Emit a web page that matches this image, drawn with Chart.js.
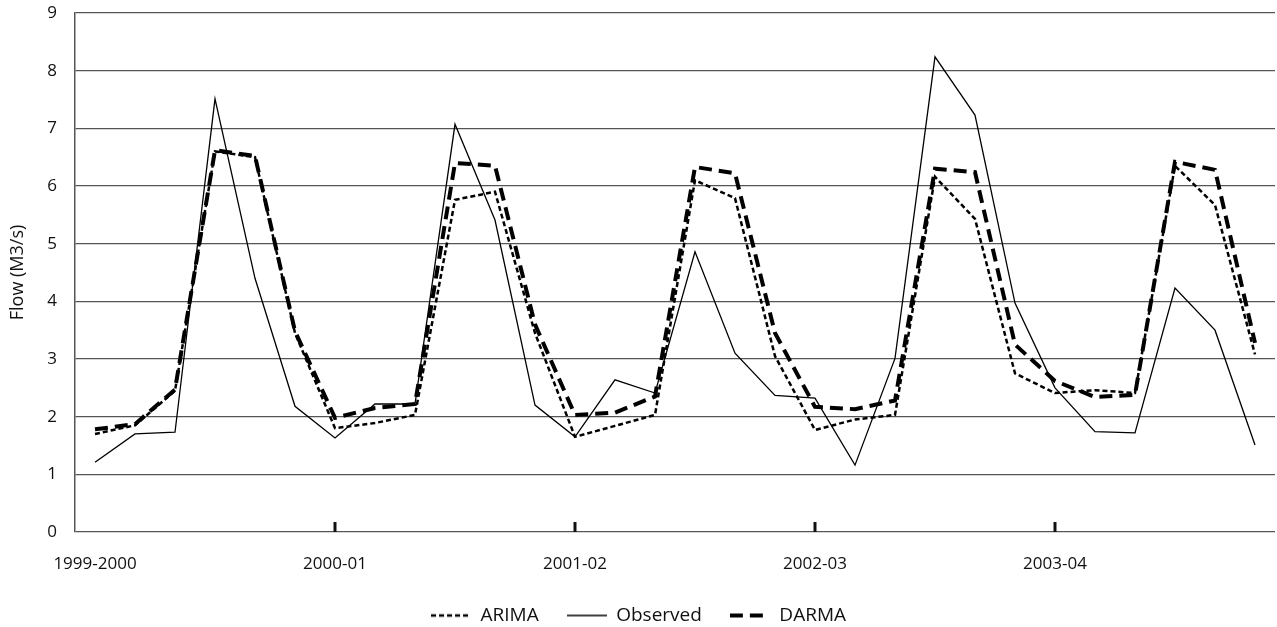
<!DOCTYPE html>
<html>
<head>
<meta charset="utf-8">
<script src="https://cdn.jsdelivr.net/npm/chart.js@4.4.0/dist/chart.umd.min.js"></script>
<style>
  html, body { margin: 0; padding: 0; background: #fff; }
  #wrap { width: 1277px; height: 627px; position: relative; }
</style>
</head>
<body>
<div id="wrap"><canvas id="flowChart"></canvas></div>
<script>
// season labels, one every 6 bimonthly steps
var yearLabels = ['1999-2000', '2000-01', '2001-02', '2002-03', '2003-04'];
var stepsPerYear = 6;

// flow values (M3/s)
var observed = [1.21, 1.70, 1.73, 7.51, 4.40, 2.18, 1.63, 2.22, 2.22, 7.07, 5.41, 2.20, 1.65, 2.64, 2.41,
                4.86, 3.10, 2.37, 2.32, 1.16, 3.01, 8.24, 7.23, 3.97, 2.50, 1.74, 1.72, 4.23, 3.50, 1.51];
var arima    = [1.70, 1.85, 2.45, 6.60, 6.50, 3.45, 1.80, 1.89, 2.03, 5.76, 5.90, 3.45, 1.65, 1.84, 2.03,
                6.10, 5.79, 3.05, 1.77, 1.95, 2.03, 6.16, 5.43, 2.75, 2.41, 2.46, 2.41, 6.35, 5.67, 3.08];
var darma    = [1.78, 1.87, 2.47, 6.62, 6.52, 3.48, 1.98, 2.15, 2.22, 6.40, 6.35, 3.60, 2.03, 2.07, 2.35,
                6.33, 6.22, 3.45, 2.17, 2.13, 2.28, 6.30, 6.24, 3.25, 2.62, 2.34, 2.38, 6.42, 6.28, 3.28];

var yMin = 0, yMax = 9, yStep = 1;

var categories = observed.map(function (v, i) {
  return i % stepsPerYear === 0 ? yearLabels[i / stepsPerYear] : '';
});

// line styles per series
var styles = [
  { width: 2.5, dash: [5, 3] },
  { width: 1.3, dash: [] },
  { width: 4, dash: [13, 7] }
];

// legend sample: a short dashed line drawn into a small canvas
function lineSample(st) {
  var c = document.createElement('canvas');
  c.width = 40; c.height = 8;
  var g = c.getContext('2d');
  g.strokeStyle = '#000';
  g.lineWidth = st.width;
  g.setLineDash(st.dash);
  g.beginPath();
  g.moveTo(0, 4);
  g.lineTo(40, 4);
  g.stroke();
  return c;
}

// small tick marks on the x axis at each season start
var seasonTicks = {
  id: 'seasonTicks',
  afterDatasetsDraw: function (chart) {
    var xs = chart.scales.x, ys = chart.scales.y, ctx = chart.ctx;
    ctx.save();
    ctx.strokeStyle = '#111';
    ctx.lineWidth = 3;
    categories.forEach(function (c, i) {
      if (c && i > 0) {
        var px = xs.getPixelForValue(i);
        ctx.beginPath();
        ctx.moveTo(px, ys.bottom);
        ctx.lineTo(px, ys.bottom - 10);
        ctx.stroke();
      }
    });
    ctx.restore();
  }
};

var ctx = document.getElementById('flowChart').getContext('2d');
var chart = new Chart(ctx, {
  type: 'line',
  data: {
    labels: categories,
    datasets: [{
      label: 'ARIMA',
      data: arima,
      borderColor: '#000',
      borderWidth: styles[0].width,
      borderDash: styles[0].dash,
      pointRadius: 0,
      fill: false,
      tension: 0
    }, {
      label: 'Observed',
      data: observed,
      borderColor: '#000',
      borderWidth: styles[1].width,
      pointRadius: 0,
      fill: false,
      tension: 0
    }, {
      label: 'DARMA',
      data: darma,
      borderColor: '#000',
      borderWidth: styles[2].width,
      borderDash: styles[2].dash,
      pointRadius: 0,
      fill: false,
      tension: 0
    }]
  },
  options: {
    responsive: true,
    maintainAspectRatio: false,
    animation: false,
    layout: { padding: { top: 13, right: 0, bottom: -8, left: 0 } },
    plugins: {
      tooltip: { enabled: false },
      legend: {
        position: 'bottom',
        labels: {
          usePointStyle: true,
          pointStyleWidth: 40,
          padding: 28,
          color: '#111',
          font: { family: 'Open Sans', size: 19 },
          generateLabels: function (chart) {
            var items = Chart.defaults.plugins.legend.labels.generateLabels(chart);
            items.forEach(function (it, i) { it.pointStyle = lineSample(styles[i]); });
            return items;
          }
        }
      }
    },
    scales: {
      x: {
        offset: true,
        afterFit: function (scale) { scale.height = 46; },
        grid: { display: false, drawTicks: false },
        border: { display: false },
        ticks: {
          autoSkip: false,
          maxRotation: 0,
          padding: 22,
          color: '#111',
          font: { family: 'Open Sans', size: 17 }
        }
      },
      y: {
        min: yMin,
        max: yMax,
        afterFit: function (scale) {
          scale.width = 75;
          scale.paddingTop = 0;
        },
        grid: { color: '#555', lineWidth: 1.3, drawTicks: false },
        border: { display: true, color: '#555', width: 1.5 },
        ticks: {
          stepSize: yStep,
          padding: 18,
          color: '#111',
          font: { family: 'Open Sans', size: 17 }
        },
        title: {
          display: true,
          text: 'Flow (M3/s)',
          color: '#111',
          padding: { top: 7, bottom: 0 },
          font: { family: 'Open Sans', size: 18 }
        }
      }
    }
  },
  plugins: [seasonTicks]
});
</script>
</body>
</html>
